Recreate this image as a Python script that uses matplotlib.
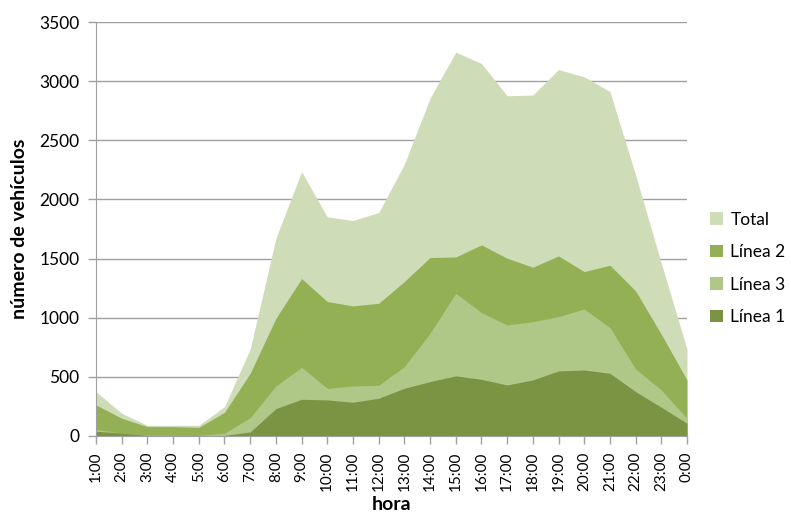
import matplotlib.pyplot as plt
from matplotlib.patches import Patch
import numpy as np

plt.rcParams['font.family'] = ['Lato', 'DejaVu Sans']

# hourly vehicle counts
horas = ["1:00", "2:00", "3:00", "4:00", "5:00", "6:00", "7:00", "8:00",
         "9:00", "10:00", "11:00", "12:00", "13:00", "14:00", "15:00", "16:00",
         "17:00", "18:00", "19:00", "20:00", "21:00", "22:00", "23:00", "0:00"]
total = [375, 192, 90, 90, 90, 248, 735, 1672, 2236, 1853, 1822, 1889,
         2298, 2857, 3246, 3150, 2877, 2883, 3099, 3037, 2913, 2208, 1461, 735]
linea2 = [262, 150, 79, 79, 73, 200, 530, 995, 1331, 1137, 1100, 1122,
          1306, 1509, 1514, 1616, 1503, 1427, 1523, 1390, 1444, 1227, 860, 474]
linea3 = [55, 25, 8, 5, 5, 23, 155, 423, 581, 403, 423, 429,
          587, 869, 1207, 1043, 939, 967, 1010, 1074, 917, 567, 389, 150]
linea1 = [40, 25, 5, 3, 3, 5, 34, 231, 310, 305, 285, 319,
          403, 460, 508, 479, 431, 474, 550, 558, 530, 375, 243, 107]

series = [("Total", total, "#cfdcb8"),
          ("Línea 2", linea2, "#93b055"),
          ("Línea 3", linea3, "#afc787"),
          ("Línea 1", linea1, "#7a9444")]

fig = plt.figure(figsize=(7.91, 5.14), dpi=100)
ax = fig.add_axes([0.1214, 0.1518, 0.7471, 0.8052])

x = np.arange(len(horas))
for name, vals, col in series:
    ax.fill_between(x, 0, vals, color=col, lw=0, zorder=2)

ax.set_xlim(0, len(horas) - 1)
ax.set_ylim(0, 3500)
ax.set_yticks(np.arange(0, 3501, 500))
ax.set_xticks(x)
ax.set_xticklabels(horas, rotation=90)
ax.yaxis.grid(True, color="#a0a0a0", lw=1, zorder=1)
ax.set_axisbelow(True)

for s in ["top", "right"]:
    ax.spines[s].set_visible(False)
ax.spines["left"].set_color("#a0a0a0")
ax.spines["bottom"].set_color("#a0a0a0")
ax.tick_params(axis="both", colors="#a0a0a0", labelcolor="black",
               length=6, width=1)
ax.tick_params(axis="y", labelsize=12.5, pad=6)
ax.tick_params(axis="x", labelsize=11, pad=5)

ax.set_xlabel("hora", fontsize=14, fontweight="bold", labelpad=4)
ax.set_ylabel("número de vehículos", fontsize=14, fontweight="bold", labelpad=8)

handles = [Patch(facecolor=c, edgecolor="none", label=n) for n, v, c in series]
fig.legend(handles=handles, loc="center left", bbox_to_anchor=(0.897, 0.478),
           frameon=False, fontsize=12.5, handlelength=0.75, handleheight=0.75,
           handletextpad=0.45, labelspacing=0.95, borderpad=0, borderaxespad=0)

fig.savefig("out.png", dpi=100)
